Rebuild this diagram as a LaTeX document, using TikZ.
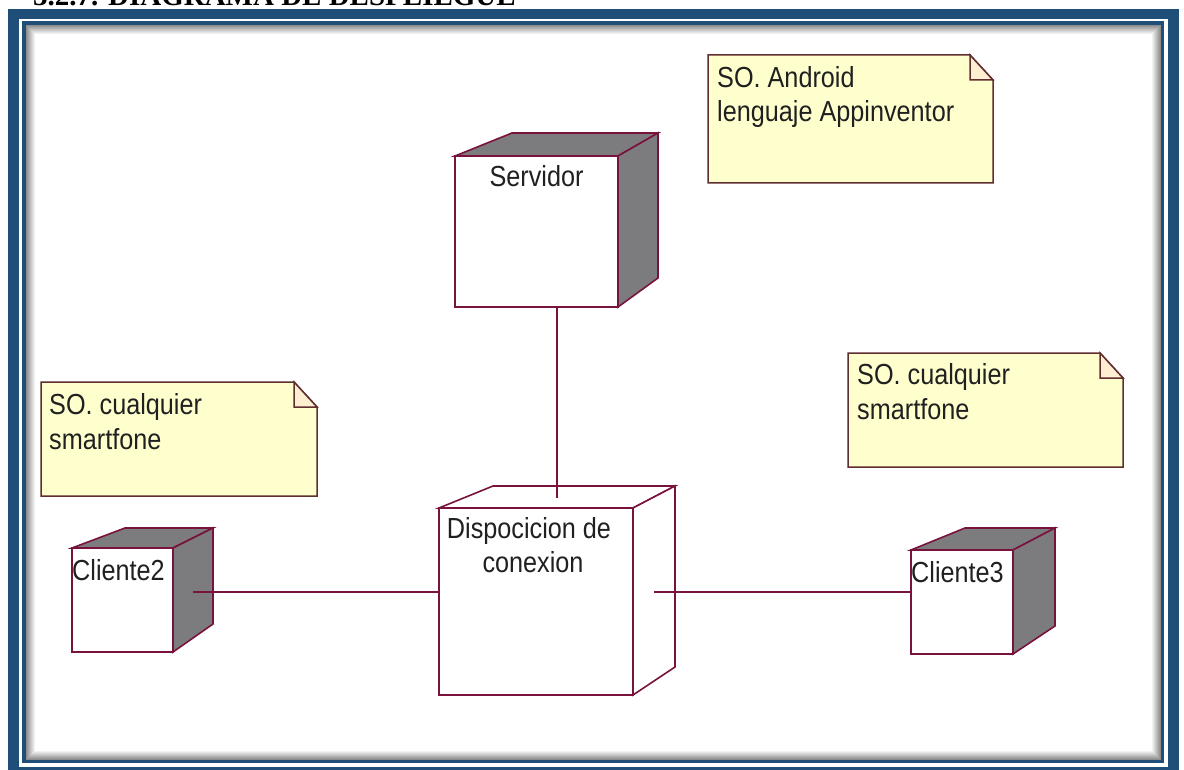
\documentclass[tikz,border=0pt]{standalone}
\usepackage{fontspec}
\setmainfont{Liberation Sans}[FakeStretch=0.87]
\newfontfamily\titlefont{Liberation Serif}
\usetikzlibrary{calc}

\definecolor{frameblue}{RGB}{31,78,121}
\definecolor{edgered}{RGB}{122,18,62}
\definecolor{sidegrey}{RGB}{124,124,126}
\definecolor{notefill}{RGB}{255,255,206}
\definecolor{notefold}{RGB}{255,238,210}
\definecolor{noteedge}{RGB}{96,46,46}
\definecolor{inktext}{RGB}{32,32,32}

\tikzset{
  devfront/.style={draw=edgered, line width=1.6pt, fill=white, inner sep=0pt,
    outer sep=0pt, anchor=north west},
  devface/.style={draw=edgered, line width=1.6pt, line join=miter},
  devrim/.style={draw=edgered, line width=2.8pt},
  devlabel/.style={text=inktext, font=\fontsize{29}{34}\selectfont, inner sep=0pt,
    align=center},
  noteshape/.style={inner sep=0pt, outer sep=0pt, anchor=north west},
  noteline/.style={draw=noteedge, line width=1.5pt, line join=miter},
  notetext/.style={text=inktext, font=\fontsize{29}{34.5}\selectfont, inner sep=0pt,
    anchor=base west, align=left},
  link/.style={draw=edgered, line width=1.4pt}
}

% device box: name, x, y, width, height, left slant, right slant, rise, side fill
\newcommand\devbox[9]{%
  \node[devfront, minimum width=#4pt, minimum height=#5pt] (#1) at (#2,#3) {};
  \filldraw[devface, fill=#9]
    (#1.north west) -- ++(#6,#8) -- ($(#1.north east)+(#7,#8)$) -- (#1.north east) -- cycle;
}
\newcommand\devside[5]{% name, right slant, rise, bottom rise, fill
  \filldraw[devface, fill=#5]
    (#1.north east) -- ++(#2,#3) -- ($(#1.south east)+(#2,#4)$) -- (#1.south east) -- cycle;
  \draw[devrim] (#1.north east) -- (#1.south east);
}

% note with folded corner: name, x1, y1, x2, y2
\newcommand\notebox[5]{%
  \node[noteshape, minimum width={#4-#2}, minimum height={#5-#3}] (#1) at (#2,#3) {};
  \filldraw[noteline, fill=notefill]
    (#1.north west) -- ($(#1.north east)+(-23,0)$) -- ($(#1.north east)+(0,25)$)
    -- (#1.south east) -- (#1.south west) -- cycle;
  \filldraw[noteline, fill=notefold]
    ($(#1.north east)+(-23,0)$) -- ($(#1.north east)+(-23,25)$) -- ($(#1.north east)+(0,25)$) -- cycle;
}

\begin{document}
\begin{tikzpicture}[x=1pt, y=-1pt]
\useasboundingbox (0,0) rectangle (1184,770);
\clip (0,0) rectangle (1184,770);
\fill[white] (0,0) rectangle (1184,770);

% heading above the frame
\node[anchor=base west, inner sep=0pt, text=black,
      font=\titlefont\bfseries\fontsize{29}{34}\selectfont] (title) at (33,5.5)
  {3.2.7. DIAGRAMA DE DESPLIEGUE};

% blue double frame
\fill[frameblue] (8,9) rectangle (1179,780);
\fill[white] (19,19) rectangle (1168,767);
\fill[frameblue] (22,21) rectangle (1164,763);
% inset shadow
\foreach \i in {0,...,8} {
  \pgfmathsetmacro\g{int(45-5*\i)}
  \fill[black!\g] (26+\i,25+\i) rectangle (1161-\i,760-\i);
}
\fill[white] (35,34) rectangle (1152,751);

% notes (text anchored on the baseline of the last line)
\notebox{n1}{708}{55}{993}{183}
\node[notetext] (n1t) at (717,122) {SO. Android\\lenguaje Appinventor};
\notebox{n2}{41}{382}{317}{496}
\node[notetext] (n2t) at (49,449) {SO. cualquier\\smartfone};
\notebox{n3}{848}{353}{1123}{467}
\node[notetext] (n3t) at (857,419) {SO. cualquier\\smartfone};

% devices
\devbox{srv}{455}{156}{163}{151}{57}{40}{-23}{sidegrey}
\devside{srv}{40}{-23}{-29}{sidegrey}
\node[devlabel, anchor=base] (srvt) at ($(srv.north)+(0,31)$) {Servidor};

\devbox{disp}{439}{508}{194}{187}{54}{42}{-22}{white}
\devside{disp}{42}{-22}{-28}{white}
\node[devlabel, anchor=base] (dispa) at (529,538) {Dispocicion de};
\node[devlabel, anchor=base] (dispb) at (533,572) {conexion};

\devbox{c2}{72}{548}{101}{104}{53}{40}{-20}{sidegrey}
\devside{c2}{40}{-20}{-28}{sidegrey}
\node[devlabel, anchor=base west] (c2t) at (72,580) {Cliente2};

\devbox{c3}{911}{550}{102}{104}{54}{42}{-22}{sidegrey}
\devside{c3}{42}{-22}{-28}{sidegrey}
\node[devlabel, anchor=base west] (c3t) at (911,582) {Cliente3};

% connections
\coordinate (disptop) at (557,498);
\coordinate (c2side) at (193,592);
\coordinate (dispside) at (654,592);
\draw[link] (srv.south -| disptop) -- (disptop);
\draw[link] (c2side) -- (c2side -| disp.west);
\draw[link] (dispside) -- (dispside -| c3.west);
\end{tikzpicture}
\end{document}
